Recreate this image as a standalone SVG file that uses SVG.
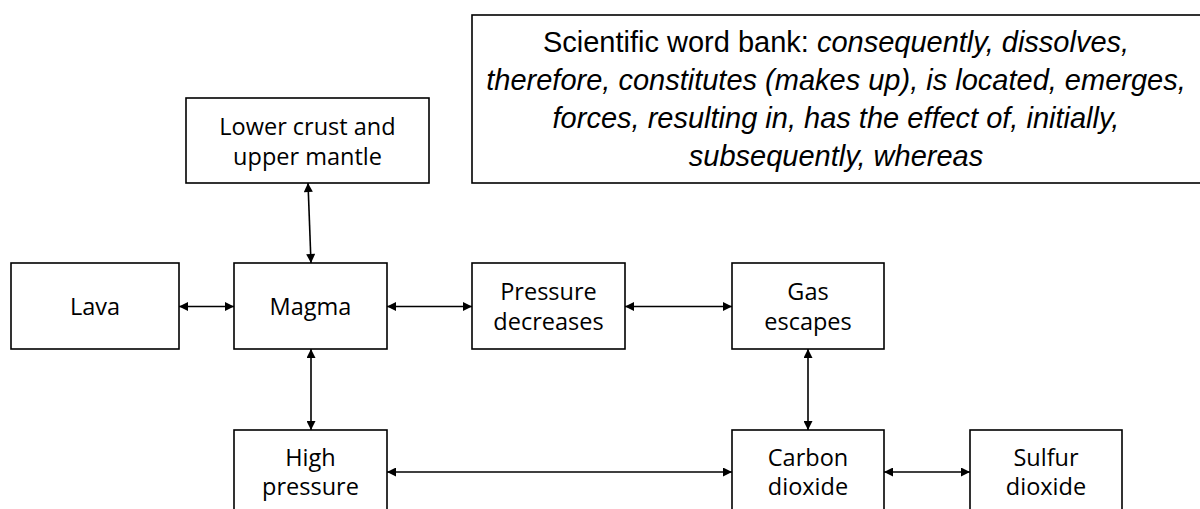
<svg xmlns="http://www.w3.org/2000/svg" width="1200" height="509" viewBox="0 0 1200 509">
<defs>
<marker id="ah" viewBox="0 0 10 10" refX="10" refY="5" markerWidth="10" markerHeight="9" markerUnits="userSpaceOnUse" orient="auto-start-reverse">
<path d="M0,0 L10,5 L0,10 z" fill="#000"/>
</marker>
<style>
.box{fill:#fff;stroke:#000;stroke-width:1.6}
.lbl{font-family:"Open Sans","DejaVu Sans",sans-serif;font-size:23.5px;fill:#000;text-anchor:middle}
.bank{font-family:"Liberation Sans",Arial,sans-serif;font-size:29px;fill:#000;text-anchor:middle}
.it{font-style:italic}
.conn{fill:none;stroke:#000;stroke-width:1.6;marker-start:url(#ah);marker-end:url(#ah)}
</style>
</defs>
<rect width="1200" height="509" fill="#fff"/>
<g id="wordbank">
<rect class="box" x="472" y="15" width="740" height="168"/>
<text class="bank" x="836" y="52">Scientific word bank: <tspan class="it">consequently, dissolves,</tspan></text>
<text class="bank it" x="836" y="90">therefore, constitutes (makes up), is located, emerges,</text>
<text class="bank it" x="836" y="128">forces, resulting in, has the effect of, initially,</text>
<text class="bank it" x="836" y="166">subsequently, whereas</text>
</g>
<g id="lower-crust">
<rect class="box" x="186" y="98" width="243" height="85"/>
<text class="lbl" x="307.5" y="135">Lower crust and</text>
<text class="lbl" x="307.5" y="165">upper mantle</text>
</g>
<g id="lava">
<rect class="box" x="11" y="263" width="168" height="86"/>
<text class="lbl" x="95" y="315">Lava</text>
</g>
<g id="magma">
<rect class="box" x="234" y="263" width="153" height="86"/>
<text class="lbl" x="310.5" y="315">Magma</text>
</g>
<g id="pressure-decreases">
<rect class="box" x="472" y="263" width="153" height="86"/>
<text class="lbl" x="548.5" y="300">Pressure</text>
<text class="lbl" x="548.5" y="330">decreases</text>
</g>
<g id="gas-escapes">
<rect class="box" x="732" y="263" width="152" height="86"/>
<text class="lbl" x="808" y="300">Gas</text>
<text class="lbl" x="808" y="330">escapes</text>
</g>
<g id="high-pressure">
<rect class="box" x="234" y="430" width="153" height="86"/>
<text class="lbl" x="310.5" y="466">High</text>
<text class="lbl" x="310.5" y="495">pressure</text>
</g>
<g id="carbon-dioxide">
<rect class="box" x="732" y="430" width="152" height="86"/>
<text class="lbl" x="808" y="466">Carbon</text>
<text class="lbl" x="808" y="495">dioxide</text>
</g>
<g id="sulfur-dioxide">
<rect class="box" x="970" y="430" width="152" height="86"/>
<text class="lbl" x="1046" y="466">Sulfur</text>
<text class="lbl" x="1046" y="495">dioxide</text>
</g>
<g id="connectors">
<path class="conn" d="M179,306.5 H234"/>
<path class="conn" d="M387,306.5 H472"/>
<path class="conn" d="M625,306.5 H732"/>
<path class="conn" d="M308,183 L311,263"/>
<path class="conn" d="M311,349 V430"/>
<path class="conn" d="M808,349 V430"/>
<path class="conn" d="M387,472 H732"/>
<path class="conn" d="M884,472 H970"/>
</g>
</svg>
